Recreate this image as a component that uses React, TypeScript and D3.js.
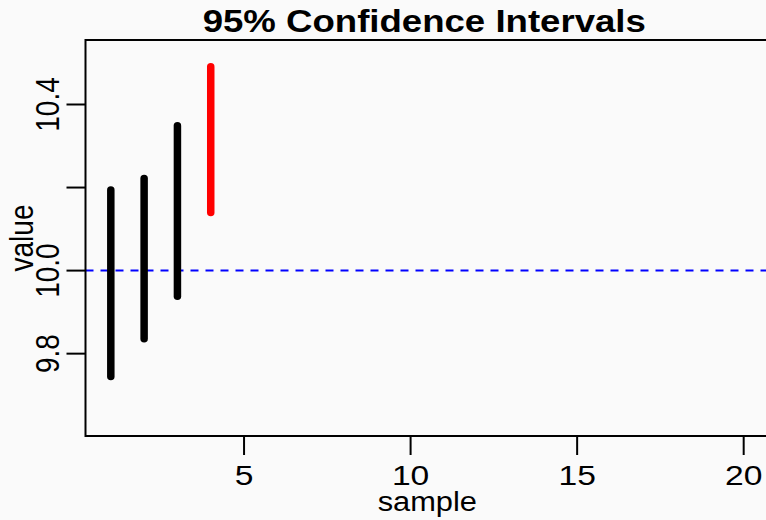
import React, { useEffect, useRef } from "react";
import * as d3 from "d3";

// sample index and interval bounds
const samples = [1, 2, 3, 4];
const lower = [9.745, 9.836, 9.938, 10.14];
const upper = [10.194, 10.222, 10.349, 10.491];
// red if the interval misses the true mean
const missed = [false, false, false, true];

const trueMean = 10.0;
const xTicks = [5, 10, 15, 20];
const yTicks = [9.8, 10.0, 10.2, 10.4];
const yTickLabels = ["9.8", "10.0", "", "10.4"];
const xlim = [1, 20];
const ylim = [9.637, 10.52];

function App() {
  const ref = useRef<SVGSVGElement | null>(null);
  const width = 766;
  const height = 520;
  const box = { left: 85.5, right: 769, top: 40, bottom: 436 };
  const font = "'Liberation Sans', Arial, Helvetica, sans-serif";
  const sx = 1.2; // text in the reference is a bit wider than tall

  useEffect(() => {
    const svg = d3.select(ref.current);
    svg.selectAll("*").remove();

    // R style 4% padding
    const padX = (xlim[1] - xlim[0]) * 0.04;
    const padY = (ylim[1] - ylim[0]) * 0.04;
    const x = d3
      .scaleLinear()
      .domain([xlim[0] - padX, xlim[1] + padX])
      .range([box.left, box.right]);
    const y = d3
      .scaleLinear()
      .domain([ylim[0] - padY, ylim[1] + padY])
      .range([box.bottom, box.top]);

    svg
      .append("rect")
      .attr("width", width)
      .attr("height", height)
      .attr("fill", "#fafafa");

    // reference line
    svg
      .append("line")
      .attr("x1", box.left)
      .attr("x2", box.right)
      .attr("y1", y(trueMean))
      .attr("y2", y(trueMean))
      .attr("stroke", "#0000ff")
      .attr("stroke-width", 2)
      .attr("stroke-dasharray", "8,7");

    // intervals
    svg
      .selectAll(".ci")
      .data(samples)
      .enter()
      .append("line")
      .attr("x1", (d) => x(d))
      .attr("x2", (d) => x(d))
      .attr("y1", (_, i) => y(lower[i]))
      .attr("y2", (_, i) => y(upper[i]))
      .attr("stroke", (_, i) => (missed[i] ? "#ff0000" : "#000000"))
      .attr("stroke-width", 7.5)
      .attr("stroke-linecap", "round");

    // box
    svg
      .append("rect")
      .attr("x", box.left)
      .attr("y", box.top)
      .attr("width", box.right - box.left)
      .attr("height", box.bottom - box.top)
      .attr("fill", "none")
      .attr("stroke", "#000")
      .attr("stroke-width", 2);

    // x axis
    const xa = svg.append("g");
    xTicks.forEach((t) => {
      xa.append("line")
        .attr("x1", x(t))
        .attr("x2", x(t))
        .attr("y1", box.bottom)
        .attr("y2", box.bottom + 19)
        .attr("stroke", "#000")
        .attr("stroke-width", 2);
      xa.append("text")
        .attr("transform", `translate(${x(t)},485) scale(${sx},1)`)
        .attr("text-anchor", "middle")
        .style("font-family", font)
        .style("font-size", "28px")
        .text(t);
    });

    // y axis
    const ya = svg.append("g");
    yTicks.forEach((t, i) => {
      ya.append("line")
        .attr("x1", box.left - 19)
        .attr("x2", box.left)
        .attr("y1", y(t))
        .attr("y2", y(t))
        .attr("stroke", "#000")
        .attr("stroke-width", 2);
      ya.append("text")
        .attr("transform", `translate(59,${y(t)}) scale(${sx},1) rotate(-90)`)
        .attr("text-anchor", "middle")
        .style("font-family", font)
        .style("font-size", "28px")
        .text(yTickLabels[i]);
    });

    const cx = (box.left + box.right) / 2;
    const cy = (box.top + box.bottom) / 2;

    svg
      .append("text")
      .attr("transform", `translate(${cx},511) scale(1.1,1)`)
      .attr("text-anchor", "middle")
      .style("font-family", font)
      .style("font-size", "28px")
      .text("sample");

    svg
      .append("text")
      .attr("transform", `translate(33,${cy}) scale(${sx},1) rotate(-90)`)
      .attr("text-anchor", "middle")
      .style("font-family", font)
      .style("font-size", "28px")
      .text("value");

    svg
      .append("text")
      .attr("transform", `translate(${cx - 3},32) scale(${sx},1)`)
      .attr("text-anchor", "middle")
      .style("font-family", font)
      .style("font-size", "30.5px")
      .style("font-weight", "bold")
      .text("95% Confidence Intervals");
  });

  return (
    <svg
      ref={ref}
      width={width}
      height={height}
      style={{ position: "absolute", left: 0, top: 0, display: "block" }}
    />
  );
}

export default App;
